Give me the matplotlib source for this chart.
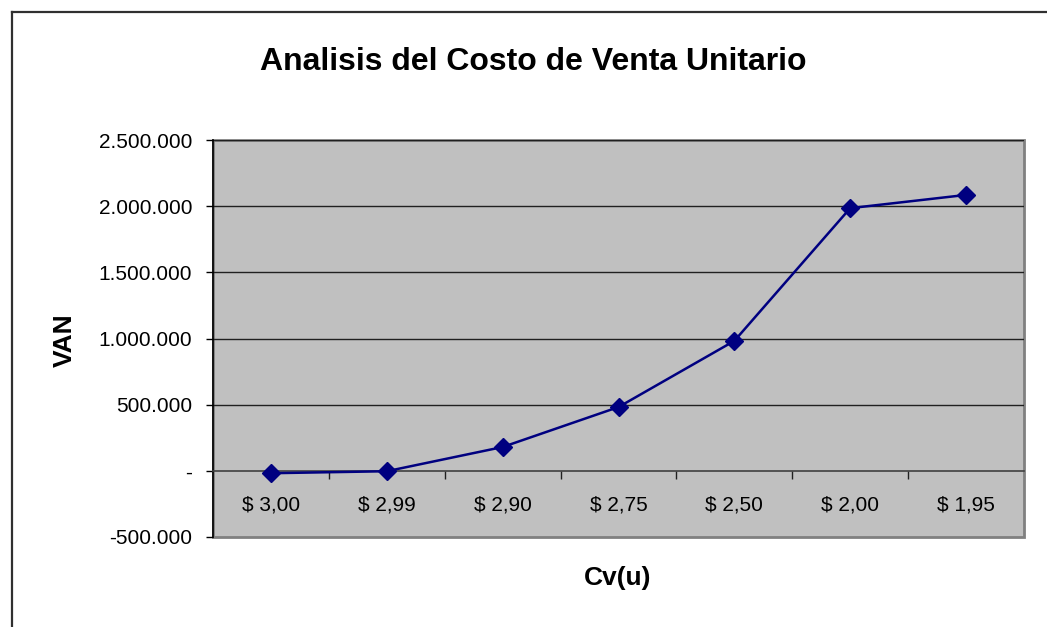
import matplotlib
matplotlib.use("Agg")
import matplotlib.pyplot as plt
from matplotlib.lines import Line2D
from matplotlib.patches import Rectangle
from matplotlib.ticker import FixedLocator, FuncFormatter

categories = ["$ 3,00", "$ 2,99", "$ 2,90", "$ 2,75", "$ 2,50", "$ 2,00", "$ 1,95"]
van_values = [-18000, -3000, 180000, 482000, 982000, 1985000, 2085000]
y_ticks = [-500000, 0, 500000, 1000000, 1500000, 2000000, 2500000]

plt.rcParams['font.family'] = ['Liberation Sans', 'DejaVu Sans']

W, H = 1047, 627
fig = plt.figure(figsize=(W / 100, H / 100), dpi=100)
fig.patch.set_facecolor('white')

L, R, T, B = 213, 1024, 140, 537
ax = fig.add_axes([L / W, 1 - B / H, (R - L) / W, (B - T) / H])
ax.set_facecolor('#C0C0C0')

x = list(range(len(categories)))
ax.plot(x, van_values, color='#000080', lw=1.8, marker='D', ms=9,
        markerfacecolor='#000080', markeredgecolor='#000080', zorder=5, clip_on=False)

ax.set_xlim(-0.5, len(categories) - 0.5)
ax.set_ylim(-500000, 2500000)

# grid
for v in y_ticks[2:]:
    ax.axhline(v, color='#202020', lw=1, zorder=1)

# spines
for s in ['top', 'right']:
    ax.spines[s].set_visible(False)
ax.spines['left'].set_color('black')
ax.spines['left'].set_linewidth(1.2)
ax.spines['bottom'].set_position(('data', 0))
ax.spines['bottom'].set_color('#404040')
ax.spines['bottom'].set_linewidth(1.2)

# plot-area border
ax.add_patch(Rectangle((0, 0), 1, 1, transform=ax.transAxes, fill=False,
                       edgecolor='#808080', lw=2, zorder=0.5, clip_on=False))

def fmt(v, pos):
    if v == 0:
        return '-'
    s = f"{abs(int(v)):,}".replace(',', '.')
    return ('-' if v < 0 else '') + s

ax.yaxis.set_major_locator(FixedLocator(y_ticks))
ax.yaxis.set_major_formatter(FuncFormatter(fmt))
ax.tick_params(axis='y', direction='out', length=5, width=1, color='black',
               labelsize=15, pad=10)

ax.set_xticks(x)
ax.set_xticklabels(categories)
ax.set_xticks([i + 0.5 for i in range(len(categories) - 1)], minor=True)
ax.tick_params(axis='x', which='major', length=0, labelsize=15, pad=18)
ax.tick_params(axis='x', which='minor', direction='out', length=6, width=1, color='#202020')

fig.text(533 / W, 1 - 62 / H, "Analisis del Costo de Venta Unitario",
         ha='center', va='center', fontsize=23, fontweight='bold')
fig.text(618 / W, 1 - 578 / H, "Cv(u)", ha='center', va='center',
         fontsize=19, fontweight='bold')
fig.text(65 / W, 1 - 340 / H, "VAN", ha='center', va='center', rotation=90,
         fontsize=19, fontweight='bold')

# outer chart border (left and top visible)
fig.add_artist(Line2D([12 / W, 12 / W], [0, 1 - 12 / H], transform=fig.transFigure,
                      color='#303030', lw=1.6))
fig.add_artist(Line2D([12 / W, 1], [1 - 12 / H, 1 - 12 / H], transform=fig.transFigure,
                      color='#303030', lw=1.6))

fig.savefig('out.png', dpi=100, facecolor='white')
